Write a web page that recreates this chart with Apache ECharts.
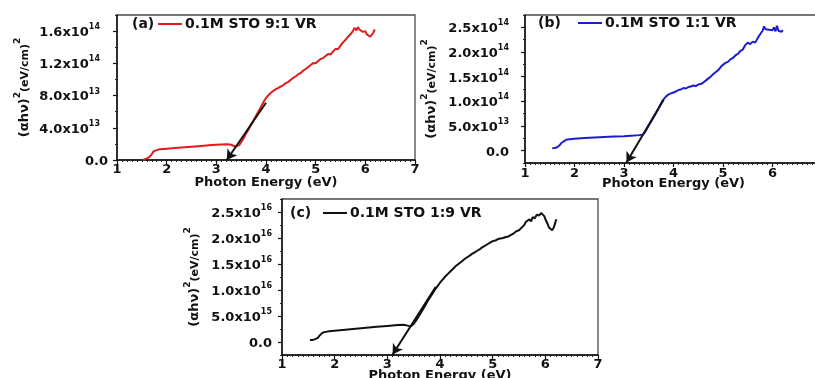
<!DOCTYPE html>
<html>
<head>
<meta charset="utf-8">
<script src="https://cdn.jsdelivr.net/npm/echarts@6/dist/echarts.min.js"></script>
<style>
  html, body { margin: 0; padding: 0; background: #fff; }
  #chart { width: 815px; height: 378px; }
</style>
</head>
<body>
<div id="chart"></div>
<script>
// Tauc plots of three STO films: (αhν)² against photon energy.

const xTickLabels = ['1', '2', '3', '4', '5', '6', '7'];

// Panel (a): 0.1M STO 9:1 VR, y in units of 1e13 (eV/cm)²
const scaleA = 1e13;
const energyA = [1.52, 1.56, 1.60, 1.65, 1.68, 1.71, 1.74, 1.78, 1.85, 1.95, 2.10, 2.30, 2.50, 2.70, 2.90, 3.10, 3.20, 3.28, 3.33, 3.38, 3.42, 3.46, 3.50, 3.55, 3.60, 3.65, 3.70, 3.75, 3.80, 3.85, 3.90, 3.95, 4.00, 4.05, 4.10, 4.15, 4.20, 4.25, 4.30, 4.35, 4.40, 4.45, 4.50, 4.55, 4.60, 4.65, 4.70, 4.75, 4.80, 4.85, 4.90, 4.95, 5.00, 5.05, 5.10, 5.15, 5.20, 5.25, 5.30, 5.35, 5.40, 5.45, 5.50, 5.55, 5.60, 5.65, 5.70, 5.75, 5.78, 5.82, 5.85, 5.88, 5.92, 5.95, 6.00, 6.03, 6.07, 6.10, 6.13, 6.16, 6.19];
const tavcA = [0.0, 0.1, 0.2, 0.35, 0.5, 0.8, 1.1, 1.25, 1.32, 1.38, 1.45, 1.55, 1.65, 1.75, 1.85, 1.92, 1.95, 1.93, 1.80, 1.65, 1.62, 1.85, 2.2, 2.7, 3.3, 3.8, 4.4, 4.95, 5.5, 6.05, 6.6, 7.2, 7.7, 8.05, 8.35, 8.6, 8.8, 8.95, 9.15, 9.3, 9.55, 9.7, 9.95, 10.2, 10.4, 10.65, 10.8, 11.1, 11.3, 11.55, 11.8, 12.05, 12.0, 12.3, 12.55, 12.65, 12.9, 13.15, 13.1, 13.45, 13.8, 13.75, 14.2, 14.6, 14.9, 15.3, 15.6, 16.0, 16.4, 16.1, 16.5, 16.2, 16.3, 15.9, 16.0, 15.6, 15.7, 15.3, 15.2, 15.8, 16.2];
const tangentA = [[4.00, 7.1], [3.21, 0.0]];
const yTicksA = [0, 4, 8, 12, 16];
const yMantA = ['0.0', '4.0x10', '8.0x10', '1.2x10', '1.6x10'];
const yExpA = ['', '13', '13', '14', '14'];

// Panel (b): 0.1M STO 1:1 VR, y in units of 1e13 (eV/cm)²
const scaleB = 1e13;
const energyB = [1.55, 1.60, 1.65, 1.70, 1.74, 1.78, 1.83, 1.90, 2.00, 2.20, 2.40, 2.60, 2.80, 3.00, 3.20, 3.30, 3.38, 3.42, 3.46, 3.50, 3.55, 3.60, 3.65, 3.70, 3.75, 3.80, 3.85, 3.90, 3.95, 4.00, 4.05, 4.10, 4.15, 4.20, 4.25, 4.30, 4.35, 4.40, 4.45, 4.50, 4.55, 4.60, 4.65, 4.70, 4.75, 4.80, 4.85, 4.90, 4.95, 5.00, 5.05, 5.10, 5.15, 5.20, 5.25, 5.30, 5.35, 5.40, 5.45, 5.50, 5.55, 5.60, 5.65, 5.70, 5.75, 5.80, 5.83, 5.86, 5.90, 5.93, 5.96, 6.00, 6.03, 6.06, 6.09, 6.12, 6.15, 6.18, 6.21];
const tavcB = [0.5, 0.55, 0.7, 1.1, 1.6, 2.0, 2.2, 2.3, 2.4, 2.55, 2.65, 2.75, 2.85, 2.92, 3.05, 3.15, 3.25, 3.7, 4.4, 5.1, 5.9, 6.8, 7.7, 8.6, 9.6, 10.4, 11.0, 11.4, 11.6, 11.8, 12.0, 12.3, 12.4, 12.7, 12.6, 12.9, 13.0, 13.2, 13.1, 13.4, 13.5, 13.8, 14.2, 14.6, 15.0, 15.5, 15.9, 16.3, 16.9, 17.4, 17.8, 18.0, 18.5, 18.8, 19.3, 19.6, 20.2, 20.5, 21.4, 21.9, 21.6, 22.1, 21.9, 22.8, 23.6, 24.3, 25.2, 24.6, 25.0, 24.5, 24.9, 24.4, 25.0, 24.2, 25.3, 24.3, 24.7, 24.1, 24.4];
const tangentB = [[3.80, 10.3], [3.05, -2.4]];
const yTicksB = [0, 5, 10, 15, 20, 25];
const yMantB = ['0.0', '5.0x10', '1.0x10', '1.5x10', '2.0x10', '2.5x10'];
const yExpB = ['', '13', '14', '14', '14', '14'];

// Panel (c): 0.1M STO 1:9 VR, y in units of 1e15 (eV/cm)²
const scaleC = 1e15;
const energyC = [1.53, 1.58, 1.63, 1.68, 1.72, 1.76, 1.80, 1.90, 2.00, 2.20, 2.40, 2.60, 2.80, 3.00, 3.20, 3.30, 3.36, 3.42, 3.46, 3.50, 3.55, 3.60, 3.65, 3.70, 3.75, 3.80, 3.85, 3.90, 3.95, 4.00, 4.05, 4.10, 4.15, 4.20, 4.25, 4.30, 4.35, 4.40, 4.45, 4.50, 4.55, 4.60, 4.65, 4.70, 4.75, 4.80, 4.85, 4.90, 4.95, 5.00, 5.05, 5.10, 5.15, 5.20, 5.25, 5.30, 5.35, 5.40, 5.45, 5.50, 5.55, 5.60, 5.63, 5.66, 5.70, 5.73, 5.76, 5.80, 5.84, 5.88, 5.92, 5.95, 5.98, 6.01, 6.04, 6.07, 6.10, 6.13, 6.16, 6.19, 6.21];
const tavcC = [0.4, 0.4, 0.55, 0.8, 1.3, 1.7, 1.9, 2.05, 2.15, 2.35, 2.55, 2.75, 2.95, 3.1, 3.25, 3.3, 3.2, 3.05, 3.1, 3.5, 4.2, 5.0, 5.8, 6.7, 7.6, 8.4, 9.2, 10.0, 10.7, 11.4, 12.0, 12.6, 13.1, 13.6, 14.1, 14.6, 15.0, 15.4, 15.8, 16.2, 16.5, 16.9, 17.2, 17.5, 17.8, 18.2, 18.5, 18.8, 19.1, 19.4, 19.5, 19.8, 19.9, 20.0, 20.2, 20.3, 20.6, 20.9, 21.3, 21.5, 22.0, 22.5, 23.1, 22.8, 23.6, 23.2, 24.0, 23.8, 24.5, 24.3, 24.8, 24.6, 24.2, 23.4, 22.8, 22.0, 21.8, 21.5, 22.0, 23.0, 23.6];
const tangentC = [[3.92, 10.6], [3.10, -2.4]];
const yTicksC = [0, 5, 10, 15, 20, 25];
const yMantC = ['0.0', '5.0x10', '1.0x10', '1.5x10', '2.0x10', '2.5x10'];
const yExpC = ['', '15', '16', '16', '16', '16'];

const panelNames = ['0.1M STO 9:1 VR', '0.1M STO 1:1 VR', '0.1M STO 1:9 VR'];
const panelTags = ['(a)', '(b)', '(c)'];

const FONT = 'DejaVu Sans';

function pairs(xs, ys, s) {
  return xs.map((x, i) => [x, ys[i] * s]);
}

function labelFormatter(ticks, mant, exp, s) {
  return function (v) {
    let best = 0;
    ticks.forEach((t, i) => {
      if (Math.abs(t * s - v) < Math.abs(ticks[best] * s - v)) best = i;
    });
    return exp[best] ? '{m|' + mant[best] + '}{e|' + exp[best] + '}' : '{m|' + mant[best] + '}';
  };
}

const panels = [
  { grid: { left: 117, top: 15, width: 298, height: 145 }, x: energyA, y: tavcA, s: scaleA, tan: tangentA,
    ticks: yTicksA, mant: yMantA, exp: yExpA, min: 0, max: 18, color: '#e21a1a', labelMargin: 9, expPad: 8,
    nameGap: 86, xNameGap: 16, xLabelMargin: 3,
    tag: { left: 132, top: 17 }, legend: { left: 158, top: 17 } },
  { grid: { left: 525, top: 15, width: 297, height: 148 }, x: energyB, y: tavcB, s: scaleB, tan: tangentB,
    ticks: yTicksB, mant: yMantB, exp: yExpB, min: -2.5, max: 27.5, color: '#1c1cd4', labelMargin: 16, expPad: 0,
    nameGap: 87, xNameGap: 14, xLabelMargin: 4,
    tag: { left: 538, top: 16 }, legend: { left: 578, top: 16 } },
  { grid: { left: 282, top: 199, width: 316, height: 156 }, x: energyC, y: tavcC, s: scaleC, tan: tangentC,
    ticks: yTicksC, mant: yMantC, exp: yExpC, min: -2.5, max: 27.5, color: '#111111', labelMargin: 10, expPad: 0,
    nameGap: 81, xNameGap: 14, xLabelMargin: 3,
    tag: { left: 290, top: 206 }, legend: { left: 323, top: 206 } }
];

const grids = [], xAxes = [], yAxes = [], series = [], titles = [], legends = [];

panels.forEach((p, i) => {
  grids.push(Object.assign({ show: true, borderColor: '#4a4a4a', borderWidth: 1.3, backgroundColor: 'transparent',
    containLabel: false, outerBoundsMode: 'none' }, p.grid));

  xAxes.push({
    type: 'value', gridIndex: i, min: 1, max: 7, interval: 1,
    name: 'Photon Energy (eV)', nameLocation: 'middle', nameGap: p.xNameGap, nameMoveOverlap: false,
    nameTextStyle: { fontFamily: FONT, fontWeight: 'bold', fontSize: 13, color: '#111' },
    axisLine: { onZero: false, lineStyle: { color: '#111', width: 1.5 } },
    axisTick: { inside: false, length: 4, lineStyle: { color: '#111', width: 1.2 } },
    minorTick: { show: true, splitNumber: 10, length: 2, lineStyle: { color: '#222', width: 1 } },
    splitLine: { show: false },
    axisLabel: { margin: p.xLabelMargin, fontFamily: FONT, fontWeight: 'bold', fontSize: 13, color: '#111',
      formatter: (v) => xTickLabels[Math.round(v) - 1] }
  });

  const majors = p.ticks.map(t => t * p.s);
  const minors = [];
  for (let v = p.min; v <= p.max + 1e-9; v += (p.ticks[1] - p.ticks[0]) / 2) {
    if (!p.ticks.some(t => Math.abs(t - v) < 1e-9)) minors.push(v * p.s);
  }

  yAxes.push({
    type: 'value', gridIndex: i, min: p.min * p.s, max: p.max * p.s,
    name: '{p|(αhν)}{s|2}{q|(eV/cm)}{s|2}', nameLocation: 'middle', nameGap: p.nameGap, nameRotate: 90,
    nameMoveOverlap: false,
    nameTextStyle: {
      color: '#111',
      rich: {
        p: { fontFamily: FONT, fontWeight: 'bold', fontSize: 13, lineHeight: 18, verticalAlign: 'bottom' },
        q: { fontFamily: FONT, fontWeight: 'bold', fontSize: 11, lineHeight: 18, verticalAlign: 'bottom' },
        s: { fontFamily: FONT, fontWeight: 'bold', fontSize: 9, lineHeight: 18, verticalAlign: 'top' }
      }
    },
    axisLine: { onZero: false, lineStyle: { color: '#111', width: 1.5 } },
    axisTick: { length: 4, customValues: majors, lineStyle: { color: '#111', width: 1.2 } },
    splitLine: { show: false },
    axisLabel: {
      margin: p.labelMargin, customValues: majors, color: '#111',
      formatter: labelFormatter(p.ticks, p.mant, p.exp, p.s),
      rich: {
        m: { fontFamily: FONT, fontWeight: 'bold', fontSize: 13, lineHeight: 16, verticalAlign: 'bottom' },
        e: { fontFamily: FONT, fontWeight: 'bold', fontSize: 8, lineHeight: 16, verticalAlign: 'top',
             padding: [0, p.expPad, 0, 0] }
      }
    }
  });
  p.minors = minors;

  series.push({
    name: panelNames[i], type: 'line', xAxisIndex: i, yAxisIndex: i,
    data: pairs(p.x, p.y, p.s), symbol: 'none', smooth: false,
    lineStyle: { color: p.color, width: 2 }, itemStyle: { color: p.color },
    z: 3,
    markLine: {
      silent: true, animation: false,
      symbol: ['none', 'arrow'], symbolSize: [9, 10],
      label: { show: false },
      lineStyle: { color: '#111', width: 2, type: 'solid' },
      data: [[{ coord: [p.tan[0][0], p.tan[0][1] * p.s] }, { coord: [p.tan[1][0], p.tan[1][1] * p.s] }]]
    }
  });

  titles.push({ text: panelTags[i], left: p.tag.left, top: p.tag.top, padding: 0,
    textStyle: { fontFamily: FONT, fontWeight: 'bold', fontSize: 14, color: '#111' } });

  legends.push({
    data: [panelNames[i]], left: p.legend.left, top: p.legend.top, padding: 0,
    icon: 'rect', itemWidth: 24, itemHeight: 2, selectedMode: false,
    textStyle: { fontFamily: FONT, fontWeight: 'bold', fontSize: 14, color: '#111', padding: [0, 0, 0, -2] }
  });
});

// overlaid axes carrying the short minor ticks on each y axis
panels.forEach((p, i) => {
  yAxes.push({
    type: 'value', gridIndex: i, min: p.min * p.s, max: p.max * p.s, position: 'left',
    axisLine: { show: false }, splitLine: { show: false }, axisLabel: { show: false },
    axisTick: { length: 2, customValues: p.minors, lineStyle: { color: '#222', width: 1 } }
  });
});

const chart = echarts.init(document.getElementById('chart'), null, { renderer: 'canvas' });
chart.setOption({
  animation: false,
  backgroundColor: '#ffffff',
  title: titles,
  legend: legends,
  grid: grids,
  xAxis: xAxes,
  yAxis: yAxes,
  series: series
});
</script>
</body>
</html>
